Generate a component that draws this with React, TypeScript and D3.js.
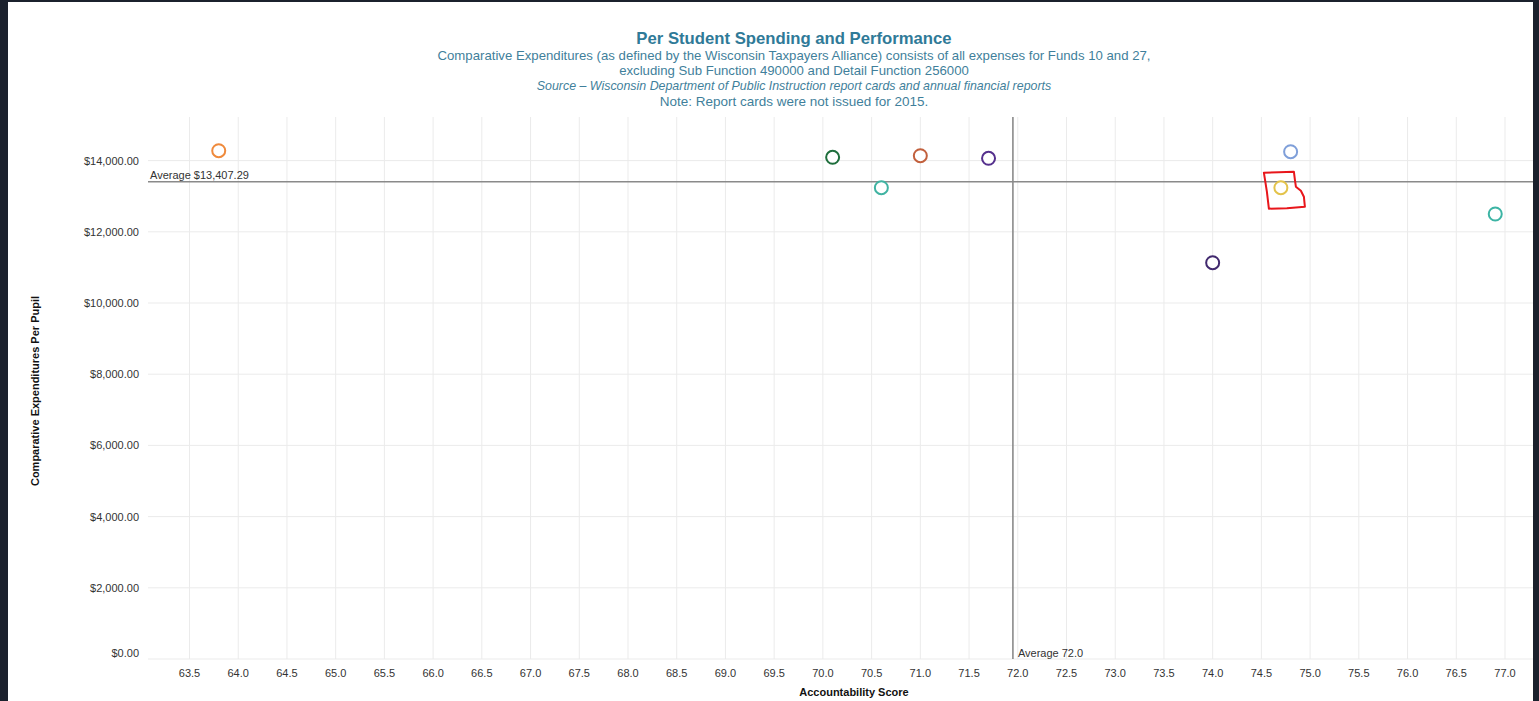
import React from "react";
import * as d3 from "d3";

// ---- data ----
const scores = [63.8, 70.1, 70.6, 71.0, 71.7, 74.0, 74.8, 74.7, 76.9];
const spending = [14278, 14093, 13239, 14138, 14065, 11132, 14250, 13239, 12500];
const pointColors = [
  "#ef8a3c",
  "#1e6e3c",
  "#40b3a2",
  "#c2603d",
  "#55308d",
  "#41296e",
  "#7f9fd9",
  "#e3c34b",
  "#3cb4a4",
];
const xTicks = [
  63.5, 64.0, 64.5, 65.0, 65.5, 66.0, 66.5, 67.0, 67.5, 68.0, 68.5, 69.0, 69.5, 70.0,
  70.5, 71.0, 71.5, 72.0, 72.5, 73.0, 73.5, 74.0, 74.5, 75.0, 75.5, 76.0, 76.5, 77.0,
];
const yTicks = [0, 2000, 4000, 6000, 8000, 10000, 12000, 14000];
const avgScore = 71.95;
const avgSpend = 13407.29;
const highlightIndex = 7;

const titleText = "Per Student Spending and Performance";
const subtitleLines = [
  "Comparative Expenditures (as defined by the Wisconsin Taxpayers Alliance) consists of all expenses for Funds 10 and 27,",
  "excluding Sub Function 490000 and Detail Function 256000",
];
const sourceText =
  "Source \u2013 Wisconsin Department of Public Instruction report cards and annual financial reports";
const noteText = "Note: Report cards were not issued for 2015.";
const xTitle = "Accountability Score";
const yTitle = "Comparative Expenditures Per Pupil";

// ---- layout ----
const W = 1539;
const H = 701;
const plotLeft = 148;
const plotTop = 117;
const plotBottom = 659;
const plotRight = 1539;
const FONT = "'Liberation Sans', Arial, Helvetica, sans-serif";
const titleColor = "#2f7a98";
const subColor = "#3f7f9b";

const money = (v: number) => "$" + d3.format(",.2f")(v);

export default function App() {
  const x = d3.scaleLinear().domain([63.5, 77]).range([189.5, 1505]);
  const y = d3.scaleLinear().domain([0, 14000]).range([659, 160.6]);

  const hx = x(scores[highlightIndex]);
  const hy = y(spending[highlightIndex]);
  const annot: [number, number][] = [
    [-17, -15],
    [-2, -15.5],
    [13, -16],
    [14, -8],
    [15, -1],
    [20, 3],
    [23, 9],
    [24, 19],
    [6, 20.5],
    [-12, 21],
    [-14, 4],
  ].map(([dx, dy]) => [hx + dx, hy + dy] as [number, number]);
  const annotPath = d3.line().curve(d3.curveLinearClosed)(annot) || "";

  return (
    <div style={{ position: "fixed", left: 0, top: 0, width: W, height: H, background: "#fff" }}>
      <svg width={W} height={H} style={{ display: "block", fontFamily: FONT }}>
        <rect x={0} y={0} width={W} height={H} fill="#fff" />
        {/* title */}
        <text x={794} y={44} textAnchor="middle" fontSize={16.7} fontWeight="bold" fill={titleColor}>
          {titleText}
        </text>
        {subtitleLines.map((t, i) => (
          <text key={i} x={794} y={59.5 + i * 15.3} textAnchor="middle" fontSize={13.2} fill={subColor}>
            {t}
          </text>
        ))}
        <text x={794} y={90} textAnchor="middle" fontSize={12.4} fontStyle="italic" fill={subColor}>
          {sourceText}
        </text>
        <text x={794} y={106} textAnchor="middle" fontSize={13.5} fill={subColor}>
          {noteText}
        </text>

        {/* grid */}
        {xTicks.map((t) => (
          <line key={"gx" + t} x1={x(t)} x2={x(t)} y1={plotTop} y2={plotBottom} stroke="#ebebeb" strokeWidth={1} />
        ))}
        {yTicks.map((t) => (
          <line key={"gy" + t} x1={plotLeft} x2={plotRight} y1={y(t)} y2={y(t)} stroke="#ebebeb" strokeWidth={1} />
        ))}

        {/* y labels */}
        {yTicks.map((t, i) => (
          <text
            key={"ly" + t}
            x={139}
            y={y(t) + (i === 0 ? -2 : 4)}
            textAnchor="end"
            fontSize={11}
            fill="#333"
          >
            {money(t)}
          </text>
        ))}
        {/* x labels */}
        {xTicks.map((t) => (
          <text key={"lx" + t} x={x(t)} y={677} textAnchor="middle" fontSize={11} fill="#333">
            {t.toFixed(1)}
          </text>
        ))}

        {/* axis titles */}
        <text x={854} y={696} textAnchor="middle" fontSize={11} fontWeight="bold" fill="#111">
          {xTitle}
        </text>
        <text
          transform={`translate(39,391) rotate(-90)`}
          textAnchor="middle"
          fontSize={11}
          fontWeight="bold"
          fill="#111"
        >
          {yTitle}
        </text>

        {/* average lines */}
        <line x1={plotLeft} x2={plotRight} y1={y(avgSpend)} y2={y(avgSpend)} stroke="#8a8a8a" strokeWidth={1.6} />
        <text x={plotLeft + 2} y={y(avgSpend) - 3} fontSize={11} fill="#333">
          {"Average " + money(avgSpend)}
        </text>
        <line x1={x(avgScore)} x2={x(avgScore)} y1={plotTop} y2={plotBottom} stroke="#8a8a8a" strokeWidth={1.6} />
        <text x={x(avgScore) + 5} y={plotBottom - 2} fontSize={11} fill="#333">
          {"Average " + avgScore.toFixed(1)}
        </text>

        {/* points */}
        {scores.map((s, i) => (
          <circle
            key={"p" + i}
            cx={x(s)}
            cy={y(spending[i])}
            r={6.5}
            fill="#fff"
            stroke={pointColors[i]}
            strokeWidth={2}
          />
        ))}

        {/* hand-drawn highlight */}
        <path d={annotPath} fill="none" stroke="#e8161b" strokeWidth={2} strokeLinejoin="round" />

        {/* dark frame */}
        <rect x={0} y={0} width={8} height={H} fill="#1b212d" />
        <rect x={0} y={0} width={W} height={2} fill="#1b212d" />
        <rect x={1533} y={0} width={W - 1533} height={H} fill="#1b212d" />
      </svg>
    </div>
  );
}
